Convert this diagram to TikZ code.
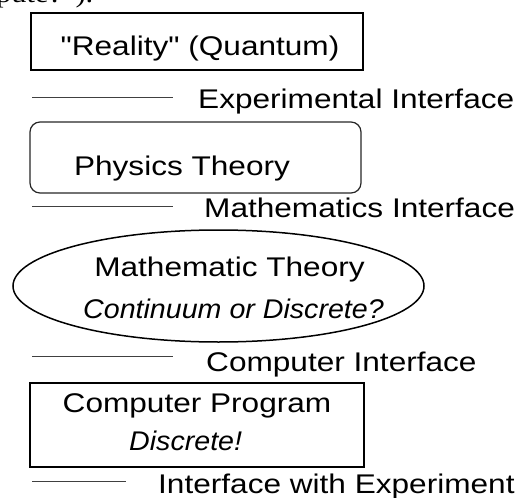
\documentclass[tikz,border=0pt]{standalone}
\usepackage{fontspec}
\newfontfamily\rsans{Liberation Sans}[FakeStretch=1.17]
\newfontfamily\isans{Liberation Sans Italic}[FakeStretch=1.06]
\newfontfamily\topserif{Liberation Serif}[FakeStretch=1.17]
\tikzset{
  lbl/.style={font=\rsans\fontsize{27}{31}\selectfont, inner sep=0pt, anchor=base west},
  ctext/.style={font=\rsans\fontsize{27}{31}\selectfont, inner sep=0pt, anchor=base},
  itext/.style={font=\isans\fontsize{27}{31}\selectfont, inner sep=0pt, anchor=base west},
  sep/.style={draw=black!75, line width=1pt},
  sqbox/.style={draw=black, line width=2pt},
  rbox/.style={draw=black!85, line width=1.2pt, rounded corners=10pt},
  ell/.style={draw=black, line width=1.5pt}
}
\begin{document}
\begin{tikzpicture}[x=1pt,y=-1pt]
\useasboundingbox (0,0) rectangle (531,498);
\begin{scope}
\clip (0,0) rectangle (531,498);
\node[anchor=base west, inner sep=0pt, font=\topserif\fontsize{26}{30}\selectfont] (top) at (-4,2) {pute?”).};
\end{scope}
% box 1
\draw[sqbox] (31,13) rectangle (363,70);
\node[ctext] (reality) at (200,55) {"Reality" (Quantum)};
% line 1
\coordinate (l1a) at (32,97); \coordinate (l1b) at (173,97);
\draw[sep] (l1a) -- (l1b);
\node[lbl] (expi) at (198,108) {Experimental Interface};
% box 2
\draw[rbox] (30,122) rectangle (361,193);
\node[ctext] (phys) at (182,175) {Physics Theory};
% line 2
\coordinate (l2a) at (32,206); \coordinate (l2b) at (173,206);
\draw[sep] (l2a) -- (l2b);
\node[lbl] (mathi) at (204,217) {Mathematics Interface};
% ellipse
\draw[ell] (218.5,286) ellipse (205.5 and 56);
\node[ctext] (matht) at (229.5,276) {Mathematic Theory};
\node[itext] (cont) at (83,318) {Continuum or Discrete?};
% line 3
\coordinate (l3a) at (32,356); \coordinate (l3b) at (173,356);
\draw[sep] (l3a) -- (l3b);
\node[lbl] (compi) at (206,371) {Computer Interface};
% box 3
\draw[sqbox] (30,383) rectangle (364,467);
\node[ctext] (cprog) at (197,412) {Computer Program};
\node[itext] (disc) at (129,450) {Discrete!};
% line 4
\coordinate (l4a) at (32,481); \coordinate (l4b) at (126,481);
\draw[sep] (l4a) -- (l4b);
\node[lbl] (inte) at (158,493) {Interface with Experiment};
\end{tikzpicture}
\end{document}
